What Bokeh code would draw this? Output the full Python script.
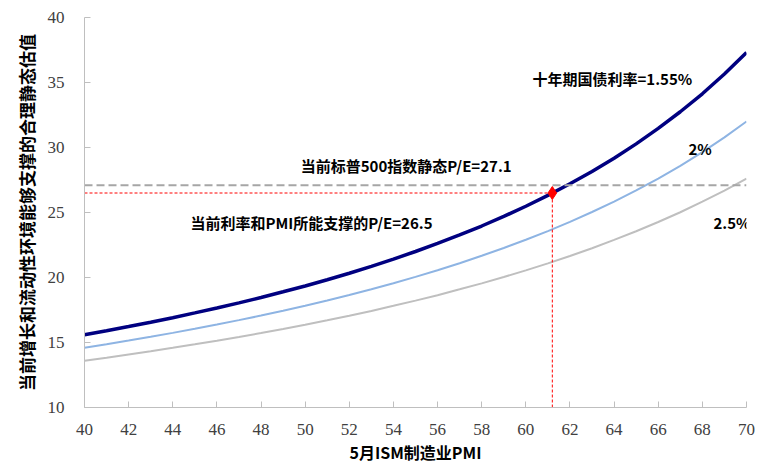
from bokeh.plotting import figure
from bokeh.models import ColumnDataSource, Label, Range1d, FixedTicker
from bokeh.embed import file_html
from bokeh.resources import INLINE

pmi = list(range(40, 71))
pe_155 = [15.60, 15.91, 16.23, 16.56, 16.91, 17.28, 17.66, 18.05, 18.46, 18.90, 19.35, 19.83,
          20.33, 20.86, 21.41, 22.00, 22.62, 23.27, 23.96, 24.70, 25.48, 26.32, 27.21, 28.16,
          29.18, 30.28, 31.47, 32.75, 34.13, 35.65, 37.30]
pe_200 = [14.60, 14.87, 15.15, 15.44, 15.74, 16.05, 16.38, 16.72, 17.07, 17.44, 17.83, 18.23,
          18.66, 19.10, 19.56, 20.05, 20.56, 21.10, 21.67, 22.27, 22.90, 23.57, 24.28, 25.04,
          25.84, 26.70, 27.61, 28.59, 29.65, 30.78, 32.00]
pe_250 = [13.60, 13.83, 14.08, 14.33, 14.59, 14.86, 15.14, 15.43, 15.73, 16.04, 16.37, 16.71,
          17.06, 17.43, 17.82, 18.22, 18.64, 19.09, 19.55, 20.04, 20.55, 21.09, 21.65, 22.25,
          22.89, 23.56, 24.27, 25.02, 25.83, 26.69, 27.60]

current_pe = 27.1
supported_pe = 26.5
current_pmi = 61.2

x_ticks = list(range(40, 71, 2))
y_ticks = [10, 15, 20, 25, 30, 35, 40]

CJK = "Noto Sans CJK SC"
NUM = "Liberation Sans Narrow"

p = figure(width=766, height=468, output_backend="svg", toolbar_location=None,
           x_range=Range1d(40, 70), y_range=Range1d(10, 40),
           min_border_left=84, min_border_right=20, min_border_top=17, min_border_bottom=61)
p.outline_line_color = None
p.xgrid.grid_line_color = None
p.ygrid.grid_line_color = None

src = ColumnDataSource(dict(x=pmi, a=pe_155, b=pe_200, c=pe_250))
p.line("x", "c", source=src, line_color="#BFBFBF", line_width=2)
p.line("x", "b", source=src, line_color="#8EB4E3", line_width=2)
p.line("x", "a", source=src, line_color="#000080", line_width=3.5)

# reference lines
p.line([40, 70], [current_pe, current_pe], line_color="#A6A6A6", line_width=2, line_dash="8 4")
p.line([40, current_pmi], [supported_pe, supported_pe], line_color="#FF0000", line_width=1, line_dash="3 2")
p.line([current_pmi, current_pmi], [10, supported_pe], line_color="#FF0000", line_width=1, line_dash="3 2")
p.scatter([current_pmi], [supported_pe], marker="diamond", size=13, color="#FF0000")

for ax in (p.xaxis[0], p.yaxis[0]):
    ax.axis_line_color = "#BFBFBF"
    ax.major_tick_line_color = "#BFBFBF"
    ax.major_tick_in = 6
    ax.major_tick_out = 0
    ax.minor_tick_line_color = None
    ax.major_label_text_font = NUM
    ax.major_label_text_font_size = "17px"
    ax.major_label_text_color = "#404040"
    ax.axis_label_text_font = CJK
    ax.axis_label_text_font_style = "bold"
    ax.axis_label_text_color = "#000000"
    ax.axis_label_text_font_size = "16px"

p.xaxis.ticker = FixedTicker(ticks=x_ticks)
p.yaxis.ticker = FixedTicker(ticks=y_ticks)
p.xaxis.major_label_standoff = 16
p.yaxis.major_label_standoff = 20
p.xaxis.axis_label = "5月ISM制造业PMI"
p.xaxis.axis_label_standoff = 2
p.yaxis.axis_label = "当前增长和流动性环境能够支撑的合理静态估值"
p.yaxis.axis_label_standoff = 6
p.yaxis.axis_label_text_font_size = "17px"

labels = [
    ("十年期国债利率=1.55%", 60.3, 35.3),
    ("2%", 67.37, 29.9),
    ("2.5%", 68.5, 24.2),
    ("当前标普500指数静态P/E=27.1", 49.8, 28.6),
    ("当前利率和PMI所能支撑的P/E=26.5", 44.8, 24.2),
]
for t, lx, ly in labels:
    p.add_layout(Label(x=lx, y=ly, text=t, text_font=CJK, text_font_style="bold",
                       text_font_size="15px", text_color="#000000", text_baseline="middle"))

open("out.html", "w").write(file_html(p, INLINE))
